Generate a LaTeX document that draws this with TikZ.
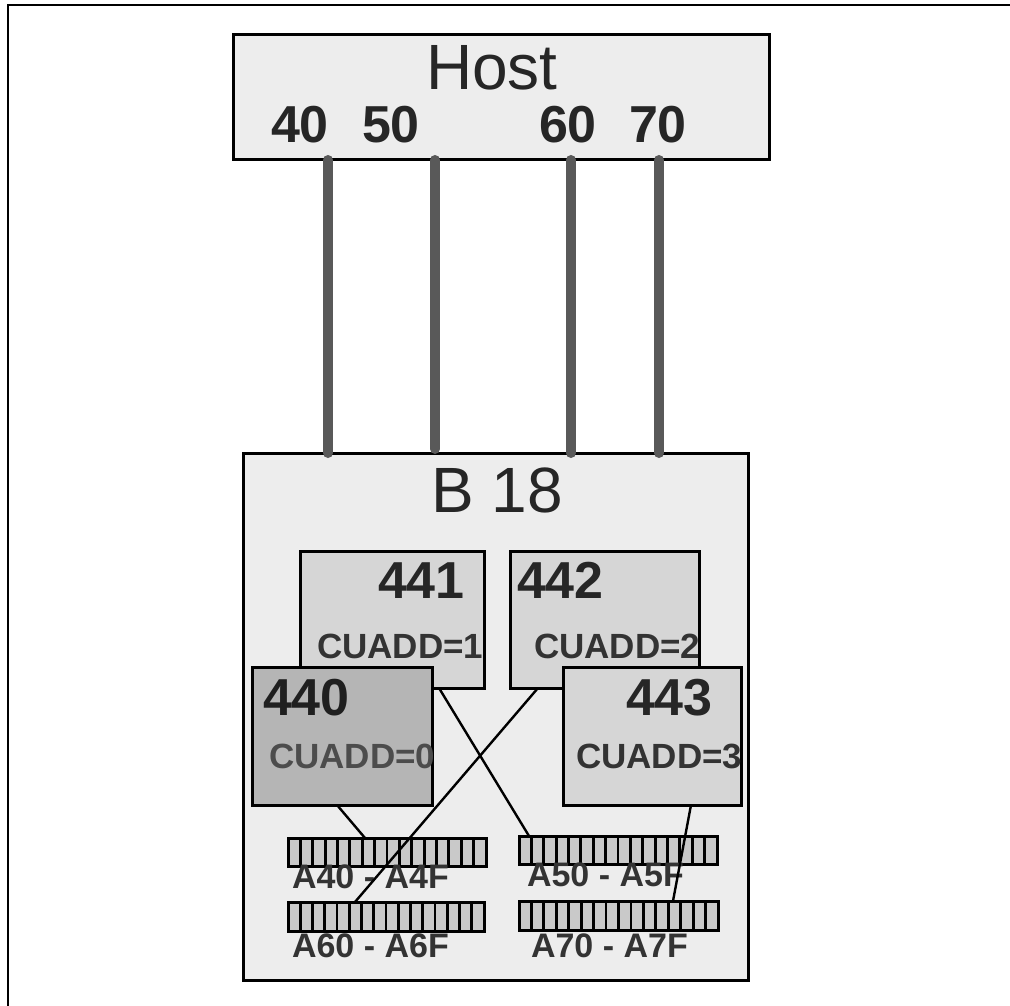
\documentclass[tikz,border=0pt]{standalone}
\usepackage{fontspec}
\setmainfont{Liberation Sans}
\usetikzlibrary{calc}
\begin{document}
\begin{tikzpicture}[x=1pt,y=-1pt,
  box/.style={draw=black,line width=3pt,anchor=north west,inner sep=0pt,outer sep=0pt,rectangle},
  bigbox/.style={box,fill=gray!14},
  cubox/.style={box,fill=gray!32},
  darkbox/.style={box,fill=gray!58},
  strip/.style={box,fill=gray!42,line width=3pt},
  cable/.style={line width=10pt,draw=black!65,line cap=round},
  conn/.style={line width=2.4pt,draw=black},
  txt/.style={anchor=base west,inner sep=0pt,outer sep=0pt,text=black!85},
  bigtxt/.style={txt,font=\fontsize{64}{64}\selectfont},
  numtxt/.style={txt,font=\bfseries\fontsize{52}{52}\selectfont},
  cutxt/.style={txt,font=\bfseries\fontsize{35}{35}\selectfont,text=black!80},
  adtxt/.style={txt,font=\bfseries\fontsize{34}{34}\selectfont,text=black!80}]
\useasboundingbox (0,0) rectangle (1010,1006);
% outer frame
\draw[line width=2pt] (8,1006) -- (8,5) -- (1010,5);
% boxes
\node[bigbox,minimum width=536pt,minimum height=125pt] (host) at (233,35) {};
\node[bigbox,minimum width=505pt,minimum height=527pt] (b18) at (243,453) {};
% cables
\draw[cable] ([xshift=95pt]host.south west) -- ([xshift=85pt]b18.north west);
\draw[cable] ([xshift=202pt]host.south west) -- ([xshift=192pt,yshift=4pt]b18.north west);
\draw[cable] ([xshift=338pt]host.south west) -- ([xshift=328pt]b18.north west);
\draw[cable] ([xshift=426pt]host.south west) -- ([xshift=416pt]b18.north west);
% host texts
\node[bigtxt] (thost) at (426,90) {Host};
\node[numtxt] (t40) at (271,143) {40};
\node[numtxt] (t50) at (362,143) {50};
\node[numtxt] (t60) at (539,143) {60};
\node[numtxt] (t70) at (629,143) {70};
\node[bigtxt] (tb18) at (431,512) {B 18};
% control units
\node[cubox,minimum width=184pt,minimum height=137pt] (b441) at (300,551) {};
\node[cubox,minimum width=189pt,minimum height=137pt] (b442) at (510,551) {};
\begin{scope}
\clip (b441.south west) rectangle (b441.north east);
\node[numtxt] (n441) at (378,598) {441};
\node[cutxt] (c441) at (317,658) {CUADD=1};
\end{scope}
\begin{scope}
\clip (b442.south west) rectangle (b442.north east);
\node[numtxt] (n442) at (517,598) {442};
\node[cutxt] (c442) at (534,658) {CUADD=2};
\end{scope}
\node[darkbox,minimum width=180pt,minimum height=138pt] (b440) at (252,667) {};
\node[cubox,minimum width=178pt,minimum height=138pt] (b443) at (563,667) {};
\begin{scope}
\clip (b440.south west) rectangle (b440.north east);
\node[numtxt,text=black!88] (n440) at (263,715) {440};
\node[cutxt,text=black!70] (c440) at (269,768) {CUADD=0};
\end{scope}
\begin{scope}
\clip (b443.south west) rectangle (b443.north east);
\node[numtxt] (n443) at (626,715) {443};
\node[cutxt] (c443) at (576,768) {CUADD=3};
\end{scope}
% address strips
\node[strip,minimum width=198pt,minimum height=28pt] (s40) at (288,838) {};
\node[strip,minimum width=198pt,minimum height=28pt] (s50) at (519,836) {};
\node[strip,minimum width=196pt,minimum height=29pt] (s60) at (288,902) {};
\node[strip,minimum width=199pt,minimum height=29pt] (s70) at (519,901) {};
\foreach \s in {s40,s50,s60,s70}{
  \foreach \i in {1,...,15}{
    \draw[line width=2.8pt] ($(\s.north west)!\i/16!(\s.north east)$) -- ($(\s.south west)!\i/16!(\s.south east)$);
  }
}
\node[adtxt] (a40) at (292,888) {A40 - A4F};
\node[adtxt] (a50) at (527,886) {A50 - A5F};
\node[adtxt] (a60) at (292,957) {A60 - A6F};
\node[adtxt] (a70) at (531,957) {A70 - A7F};
% connectors
\draw[conn] ([xshift=85pt]b440.south west) -- ([xshift=77pt]s40.north west);
\draw[conn] ([xshift=28pt]b442.south west) -- ([xshift=67pt]s60.north west);
\draw[conn] ([xshift=139pt]b441.south west) -- ([xshift=10pt]s50.north west);
\draw[conn] ([xshift=128pt]b443.south west) -- ([xshift=154pt]s70.north west);
\end{tikzpicture}
\end{document}
